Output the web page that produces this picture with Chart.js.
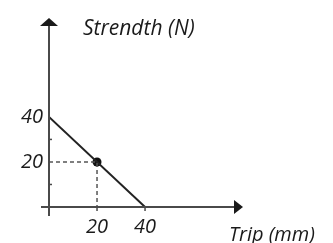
<!DOCTYPE html>
<html>
<head>
<meta charset="utf-8">
<script src="https://cdn.jsdelivr.net/npm/chart.js@4"></script>
<style>
html,body{margin:0;padding:0;background:#fff}
#wrap{width:333px;height:243px;position:relative}
</style>
</head>
<body>
<div id="wrap"><canvas id="graph"></canvas></div>
<script>
// values
const xTicks = [20, 40]
const yTicks = [20, 40]
const minorY = [10, 30]
const lineX = [0, 40]
const lineY = [40, 0]
const markX = [20]
const markY = [20]
const xTitle = "Trip (mm)"
const yTitle = "Strendth (N)"

const font = "'Open Sans', sans-serif"
const axisGray = "#4a4a4a"

const axesPlugin = {
  id: "arrows",
  afterDraw(chart) {
    const c = chart.ctx
    const xs = chart.scales.x, ys = chart.scales.y
    const x0 = xs.getPixelForValue(0), y0 = ys.getPixelForValue(0)
    const top = chart.chartArea.top, right = chart.chartArea.right
    c.save()
    c.strokeStyle = axisGray
    c.fillStyle = "#1a1a1a"
    c.lineWidth = 2
    // y axis
    c.beginPath()
    c.moveTo(x0, y0 + 9)
    c.lineTo(x0, top + 8)
    c.stroke()
    c.beginPath()
    c.moveTo(x0 - 9, top + 8)
    c.lineTo(x0 + 9, top + 8)
    c.lineTo(x0, top)
    c.closePath()
    c.fill()
    // x axis
    c.beginPath()
    c.moveTo(x0 - 8, y0)
    c.lineTo(right - 9, y0)
    c.stroke()
    c.beginPath()
    c.moveTo(right - 9, y0 - 7)
    c.lineTo(right - 9, y0 + 7)
    c.lineTo(right, y0)
    c.closePath()
    c.fill()
    // small tick marks
    c.lineWidth = 1.5
    minorY.forEach(v => {
      const p = ys.getPixelForValue(v)
      c.beginPath(); c.moveTo(x0, p); c.lineTo(x0 + 3, p); c.stroke()
    })
    xTicks.forEach(v => {
      const p = xs.getPixelForValue(v)
      c.beginPath(); c.moveTo(p, y0); c.lineTo(p, y0 + 4); c.stroke()
    })
    // axis titles
    c.textBaseline = "alphabetic"
    c.textAlign = "left"
    c.font = "italic 21px " + font
    c.fillText(yTitle, x0 + 34, top + 17)
    c.font = "italic 20px " + font
    c.fillText(xTitle, right - 14, chart.height - 2)
    c.restore()
  }
}

new Chart(document.getElementById("graph"), {
  type: "scatter",
  data: {
    datasets: [
      {
        data: [{x: 0, y: markY[0]}, {x: markX[0], y: markY[0]}, {x: markX[0], y: 0}],
        showLine: true,
        borderColor: "#555",
        borderWidth: 1.5,
        borderDash: [4, 3],
        pointRadius: 0
      },
      {
        data: lineX.map((x, i) => ({x: x, y: lineY[i]})),
        showLine: true,
        borderColor: "#222",
        borderWidth: 2,
        pointRadius: 0
      },
      {
        data: markX.map((x, i) => ({x: x, y: markY[i]})),
        pointRadius: 4.5,
        pointBackgroundColor: "#111",
        pointBorderWidth: 0
      }
    ]
  },
  options: {
    responsive: true,
    maintainAspectRatio: false,
    animation: false,
    layout: {padding: {top: 14, right: 90, left: 0, bottom: 0}},
    plugins: {legend: {display: false}, tooltip: {enabled: false}},
    scales: {
      x: {
        type: "linear",
        min: 0,
        max: 80.8,
        grid: {display: false, drawTicks: false},
        border: {display: false},
        afterFit: s => { s.height = 36 },
        afterBuildTicks: s => { s.ticks = xTicks.map(v => ({value: v})) },
        ticks: {padding: 8, color: "#1a1a1a", font: {family: font, size: 20, style: "italic"}}
      },
      y: {
        type: "linear",
        min: 0,
        max: 83.9,
        grid: {display: false, drawTicks: false},
        border: {display: false},
        afterFit: s => { s.width = 49 },
        afterBuildTicks: s => { s.ticks = yTicks.map(v => ({value: v})) },
        ticks: {padding: 6, color: "#1a1a1a", font: {family: font, size: 20, style: "italic"}}
      }
    }
  },
  plugins: [axesPlugin]
})
</script>
</body>
</html>
